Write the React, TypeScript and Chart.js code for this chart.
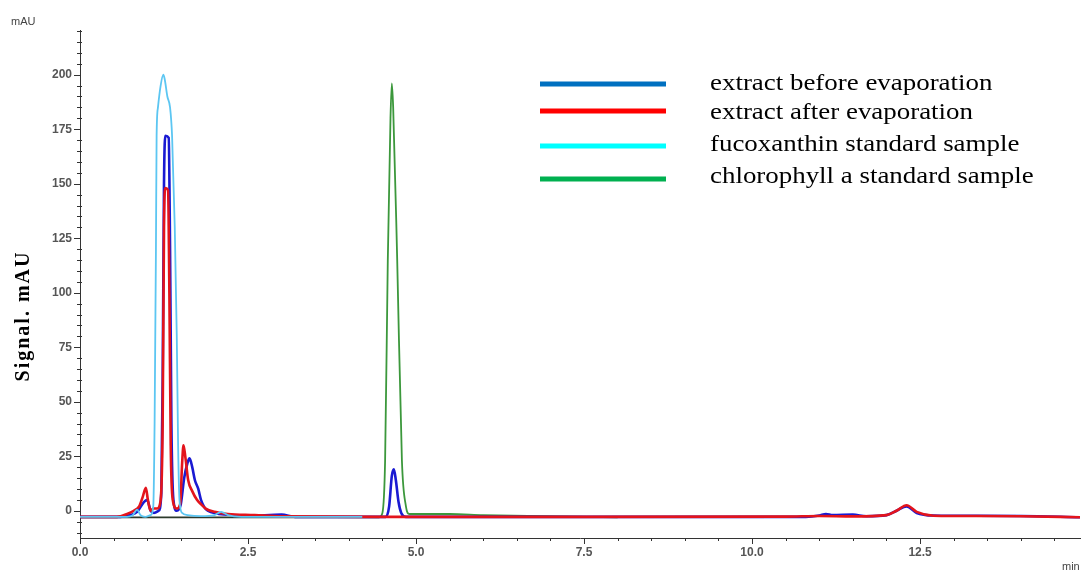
import React, { useEffect, useRef } from "react";
import { Chart, registerables } from "chart.js";

Chart.register(...registerables);

// ---- data (retention time in min, signal in mAU) ----
const seriesLabels = [
  "extract before evaporation",
  "extract after evaporation",
  "fucoxanthin standard sample",
  "chlorophyll a standard sample",
];
const legendColors = ["#0070c0", "#ff0000", "#00ffff", "#00b050"];
const traceColors = ["#1a1ad2", "#e3141c", "#5cc6f2", "#3c983c"];

const timeBefore = [0, 0.6, 0.75, 0.85, 0.95, 1.0, 1.05, 1.1, 1.17, 1.21, 1.23, 1.25, 1.27, 1.32, 1.34, 1.36, 1.39, 1.44, 1.5, 1.55, 1.6, 1.63, 1.67, 1.71, 1.76, 1.8, 1.9, 2.2, 2.5, 3.0, 3.2, 4.55, 4.6, 4.64, 4.67, 4.7, 4.74, 4.78, 4.85, 7.5, 10.8, 11.0, 11.1, 11.2, 11.5, 11.7, 12.0, 12.15, 12.3, 12.45, 12.7, 13.0, 14.0, 14.88];
const signalBefore = [-2.8, -2.8, -2, -0.5, 4, 5, 0, -1, 0, 8, 60, 150, 172, 171, 120, 40, 5, 0, 3, 15, 22, 24, 20, 14, 10, 5, 0, -1.8, -2.3, -1.8, -2.8, -2.8, 2, 16, 19, 14, 4, -1, -2.8, -2.8, -2.8, -2.2, -1.5, -2, -1.8, -2.5, -2, 0, 2, -1, -2.2, -2.3, -2.4, -3];

const timeAfter = [0, 0.55, 0.7, 0.8, 0.88, 0.93, 0.98, 1.01, 1.05, 1.09, 1.15, 1.2, 1.23, 1.25, 1.27, 1.31, 1.33, 1.35, 1.38, 1.44, 1.49, 1.52, 1.54, 1.57, 1.61, 1.67, 1.74, 1.8, 1.87, 2.0, 2.2, 2.6, 3.0, 4.5, 7.5, 10.5, 11.0, 11.5, 12.0, 12.15, 12.3, 12.45, 12.7, 13.0, 14.0, 14.88];
const signalAfter = [-2.8, -2.8, -1.5, 0, 2, 6, 10.5, 5, 0, 1, 1, 5, 40, 130, 148, 147, 100, 30, 5, 1, 3, 22, 30, 24, 14, 9, 5, 3, 1, -0.5, -1.5, -2, -2.6, -2.8, -2.8, -2.7, -2.4, -2.6, -2, 0, 2.5, -0.5, -2.3, -2.4, -2.5, -3];

const timeFuco = [0, 0.7, 0.78, 0.85, 0.9, 0.97, 1.05, 1.09, 1.11, 1.13, 1.14, 1.16, 1.2, 1.24, 1.26, 1.3, 1.34, 1.37, 1.41, 1.44, 1.46, 1.48, 1.52, 1.6, 1.8, 2.0, 2.1, 2.2, 2.4, 3.0, 4.2];
const signalFuco = [-2.8, -2.8, -2.2, 0.5, -2, -2.8, -2, 2, 40, 120, 172, 185, 195, 200, 198, 190, 185, 172, 130, 80, 30, 5, -1, -2, -2.5, -2, -0.5, -2, -2.8, -2.8, -2.8];

const timeChl = [0, 4.45, 4.5, 4.54, 4.58, 4.62, 4.64, 4.66, 4.72, 4.79, 4.85, 4.9, 5.5, 6.0, 8.0];
const signalChl = [-3, -3, -1, 23, 115, 180, 196, 185, 115, 23, 2, -1.5, -1.5, -2, -3];

const yTickValues = [0, 25, 50, 75, 100, 125, 150, 175, 200];
const xTickValues = [0, 2.5, 5, 7.5, 10, 12.5];

const toPoints = (xs: number[], ys: number[]) => xs.map((x, i) => ({ x, y: ys[i] }));

const decorPlugin = {
  id: "decor",
  afterDraw(chart: any) {
    const { ctx, chartArea } = chart;
    const xs = chart.scales.x;
    const ys = chart.scales.y;
    ctx.save();
    ctx.strokeStyle = "#333";
    ctx.lineWidth = 1;
    // y ticks
    for (let v = -10; v <= 220; v += 5) {
      const py = Math.round(ys.getPixelForValue(v)) + 0.5;
      const major = v % 25 === 0;
      ctx.beginPath();
      ctx.moveTo(chartArea.left - (major ? 6 : 3), py);
      ctx.lineTo(chartArea.left + (major ? 0 : 2), py);
      ctx.stroke();
    }
    // x ticks
    for (let v = 0; v <= 14.8; v += 0.5) {
      const px = Math.round(xs.getPixelForValue(v)) + 0.5;
      const major = Math.abs(v / 2.5 - Math.round(v / 2.5)) < 1e-6;
      ctx.beginPath();
      ctx.moveTo(px, chartArea.bottom);
      ctx.lineTo(px, chartArea.bottom + (major ? 6 : 3));
      ctx.stroke();
    }
    // unit labels
    ctx.fillStyle = "#444";
    ctx.font = "11px 'Liberation Sans', Arial, sans-serif";
    ctx.textBaseline = "middle";
    ctx.textAlign = "left";
    ctx.fillText("mAU", 11, 22);
    ctx.fillText("min", 1062, 567);
    // y title
    ctx.save();
    ctx.translate(24, 316);
    ctx.rotate(-Math.PI / 2);
    ctx.fillStyle = "#000";
    ctx.font = "bold 20px 'Liberation Serif', 'Times New Roman', serif";
    (ctx as any).letterSpacing = "2px";
    ctx.textAlign = "center";
    ctx.fillText("Signal. mAU", 0, 0);
    ctx.restore();
    // legend
    const lineRows = [84, 111, 146, 179];
    const textRows = [90, 119, 151, 183];
    seriesLabels.forEach((lab, i) => {
      ctx.strokeStyle = legendColors[i];
      ctx.lineWidth = 5;
      ctx.beginPath();
      ctx.moveTo(540, lineRows[i]);
      ctx.lineTo(666, lineRows[i]);
      ctx.stroke();
      ctx.save();
      ctx.translate(710, textRows[i]);
      ctx.scale(1.17, 1);
      ctx.font = "23px 'Liberation Serif', 'Times New Roman', serif";
      ctx.textAlign = "left";
      ctx.textBaseline = "alphabetic";
      ctx.fillStyle = "#000";
      ctx.fillText(lab, 0, 0);
      ctx.restore();
    });
    ctx.restore();
  },
};

export default function App() {
  const ref = useRef<HTMLCanvasElement>(null);
  useEffect(() => {
    if (!ref.current) return;
    const mk = (i: number, xs: number[], ys: number[], w: number, order: number, extra: any = {}) => ({
      label: seriesLabels[i],
      data: toPoints(xs, ys),
      borderColor: traceColors[i],
      borderWidth: w,
      pointRadius: 0,
      cubicInterpolationMode: "monotone",
      fill: false,
      order,
      ...extra,
    });
    const chart = new Chart(ref.current, {
      type: "line",
      data: {
        datasets: [
          mk(3, timeChl, signalChl, 1.8, 4, {
            segment: {
              borderColor: (c: any) => (c.p1.parsed.x <= 4.45 ? "#2c3a2c" : undefined),
            },
          }),
          mk(2, timeFuco, signalFuco, 1.8, 1),
          mk(0, timeBefore, signalBefore, 2.6, 3),
          mk(1, timeAfter, signalAfter, 2.6, 2),
        ],
      },
      options: {
        animation: false,
        responsive: false,
        maintainAspectRatio: false,
        layout: { padding: { top: 30, right: 2, left: 0, bottom: 0 } },
        plugins: { legend: { display: false }, tooltip: { enabled: false } },
        scales: {
          x: {
            type: "linear",
            min: 0,
            max: 14.88,
            grid: { display: false, drawTicks: false },
            border: { display: true, color: "#333", width: 1 },
            afterFit: (s: any) => {
              s.height = 36;
            },
            afterBuildTicks: (s: any) => {
              s.ticks = xTickValues.map((v) => ({ value: v }));
            },
            ticks: {
              padding: 7,
              maxRotation: 0,
              color: "#555",
              font: { family: "'Liberation Sans', Arial, sans-serif", size: 12, weight: "bold" },
              callback: (v: any) => Number(v).toFixed(1),
            },
          },
          y: {
            type: "linear",
            min: -12.5,
            max: 220.5,
            grid: { display: false, drawTicks: false },
            border: { display: true, color: "#333", width: 1 },
            afterFit: (s: any) => {
              s.width = 80;
            },
            afterBuildTicks: (s: any) => {
              s.ticks = yTickValues.map((v) => ({ value: v }));
            },
            ticks: {
              padding: 8,
              color: "#555",
              font: { family: "'Liberation Sans', Arial, sans-serif", size: 12, weight: "bold" },
            },
          },
        },
      },
      plugins: [decorPlugin],
    });
    return () => chart.destroy();
  }, []);
  return (
    <div style={{ position: "fixed", left: 0, top: 0, width: 1082, height: 574, background: "#fff" }}>
      <canvas ref={ref} width={1082} height={574} style={{ width: 1082, height: 574, display: "block" }} />
    </div>
  );
}
